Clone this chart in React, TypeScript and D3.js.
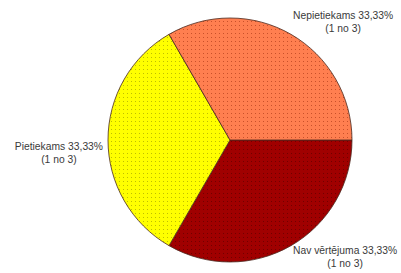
import { useLayoutEffect, useRef, useState } from "react";
import * as React from "react";
import { arc, pie, PieArcDatum } from "d3";

const categories = ["Nav vērtējuma", "Pietiekams", "Nepietiekams"];
const values = [1, 1, 1];
const percentLabels = ["33,33%", "33,33%", "33,33%"];
const countLabels = ["(1 no 3)", "(1 no 3)", "(1 no 3)"];
const fills = ["#a00000", "#ffff00", "#ff7f50"];
const dotFills = ["#700000", "#bebe00", "#c8502a"];

interface Slice {
  label: string;
  value: number;
  index: number;
}

const width = 401;
const height = 273;
const cx = 230;
const cy = 140;
const radius = 122;

function Label(props: { d: PieArcDatum<Slice> }) {
  const { d } = props;
  const ref = useRef<SVGTextElement>(null);
  const [w, setW] = useState(0);

  useLayoutEffect(() => {
    if (ref.current) setW(ref.current.getBBox().width);
  }, []);

  const mid = (d.startAngle + d.endAngle) / 2;
  const px = cx + radius * Math.sin(mid);
  const py = cy - radius * Math.cos(mid);
  const right = Math.sin(mid) > 0.1;
  const left = Math.sin(mid) < -0.1;
  const x = right ? px + 2 + w / 2 : left ? px - 5 - w / 2 : px;
  let y = py + 10;
  if (Math.cos(mid) > 0.3) y = py - 15;
  else if (Math.cos(mid) < -0.3) y = py + 8;

  return (
    <text
      ref={ref}
      x={x}
      y={y}
      textAnchor="middle"
      fontFamily="'Liberation Sans', Arial, sans-serif"
      fontSize={10.3}
      fill="#3a3a3a"
    >
      <tspan x={x}>{`${d.data.label} ${percentLabels[d.data.index]}`}</tspan>
      <tspan x={x} dy={13}>
        {countLabels[d.data.index]}
      </tspan>
    </text>
  );
}

export default function App() {
  const data: Slice[] = categories.map((label, i) => ({
    label,
    value: values[i],
    index: i,
  }));

  const arcs = pie<Slice>()
    .value((d) => d.value)
    .sort(null)
    .startAngle(Math.PI / 2)
    .endAngle(Math.PI / 2 + 2 * Math.PI)(data);

  const path = arc<PieArcDatum<Slice>>().innerRadius(0).outerRadius(radius);

  return (
    <svg
      width={width}
      height={height}
      style={{ position: "absolute", left: 0, top: 0, background: "#fff" }}
    >
      <defs>
        {fills.map((f, i) => (
          <pattern
            key={`pat-${i}`}
            id={`dots-${i}`}
            width={4}
            height={4}
            patternUnits="userSpaceOnUse"
          >
            <rect width={4} height={4} fill={f} />
            <rect x={1} y={1} width={1} height={1} fill={dotFills[i]} />
          </pattern>
        ))}
      </defs>
      <g transform={`translate(${cx}, ${cy})`}>
        {arcs.map((d) => (
          <path
            key={`slice-${d.data.label}`}
            d={path(d) || ""}
            fill={`url(#dots-${d.data.index})`}
            stroke="#4a2a20"
            strokeWidth={0.8}
          />
        ))}
      </g>
      {arcs.map((d) => (
        <Label key={`label-${d.data.label}`} d={d} />
      ))}
    </svg>
  );
}
